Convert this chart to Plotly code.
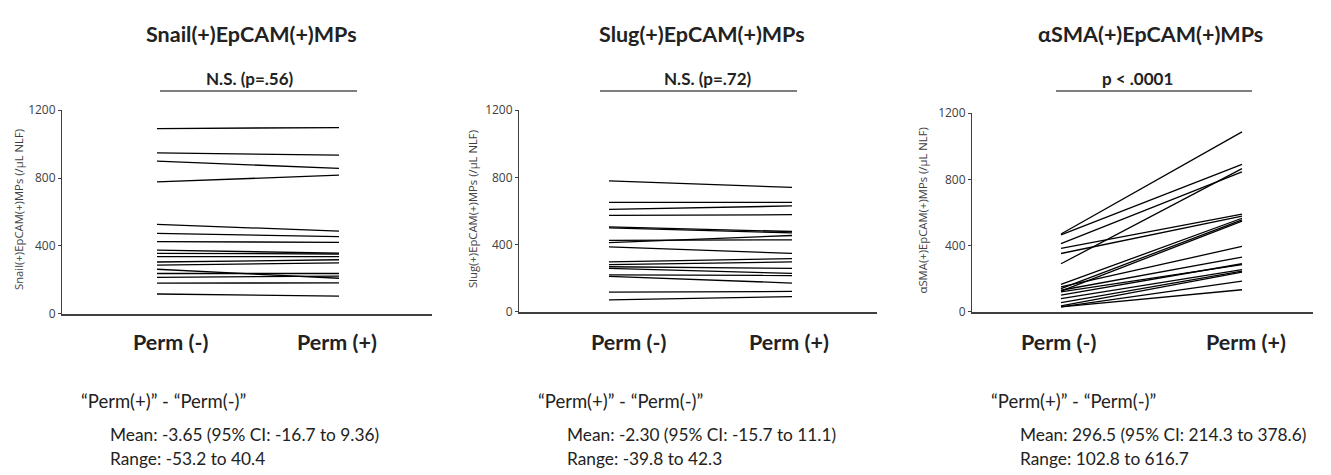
import plotly.graph_objects as go

W, H = 1331, 475

groups = ["Perm (-)", "Perm (+)"]
titles = ["Snail(+)EpCAM(+)MPs", "Slug(+)EpCAM(+)MPs", "αSMA(+)EpCAM(+)MPs"]
ytitles = ["Snail(+)EpCAM(+)MPs (/μL NLF)", "Slug(+)EpCAM(+)MPs (/μL NLF)", "αSMA(+)EpCAM(+)MPs (/μL NLF)"]
sig_labels = ["N.S. (p=.56)", "N.S. (p=.72)", "p < .0001"]
tick_vals = [0, 400, 800, 1200]
tick_text = ["0", "400", "800", "1200"]

snail_neg = [1092, 948, 900, 777, 527, 474, 425, 375, 356, 337, 305, 286, 262, 237, 214, 180, 116]
snail_pos = [1098, 935, 857, 817, 487, 455, 421, 357, 352, 337, 318, 300, 209, 237, 222, 182, 104]

slug_neg = [779, 651, 610, 574, 505, 500, 412, 425, 386, 297, 281, 268, 258, 220, 211, 117, 71]
slug_pos = [741, 651, 630, 578, 478, 470, 454, 428, 348, 316, 297, 258, 228, 216, 171, 121, 90]

sma_neg = [470, 465, 412, 290, 383, 352, 165, 140, 125, 150, 130, 100, 120, 80, 55, 35, 30, 30]
sma_pos = [1087, 890, 845, 865, 590, 578, 565, 555, 548, 395, 330, 290, 285, 255, 245, 240, 185, 133]

stats_head = "“Perm(+)” - “Perm(-)”"
stats_mean = ["Mean: -3.65 (95% CI: -16.7 to 9.36)",
              "Mean: -2.30 (95% CI: -15.7 to 11.1)",
              "Mean: 296.5 (95% CI: 214.3 to 378.6)"]
stats_range = ["Range: -53.2 to 40.4", "Range: -39.8 to 42.3", "Range: 102.8 to 616.7"]

data = [(snail_neg, snail_pos), (slug_neg, slug_pos), (sma_neg, sma_pos)]

# layout geometry in pixels: axis x0, x1, y top, y bottom, category 0 px, category 1 px
axis_px = [(62, 432, 105, 316, 157, 339), (519, 877, 105, 314, 609, 792), (972, 1313, 108, 314, 1061, 1242)]
title_cx = [251, 702, 1150]
sig_cx = [250, 708, 1137]
sig_line = [(160, 357), (600, 797), (1056, 1252)]
cat_cx = [(170, 337), (628, 789), (1058, 1246)]
ytitle_cx = [18, 472, 923]


def px(x):
    return x / W


def py(y):
    return 1 - y / H


fig = go.Figure()
annotations = []
shapes = []
TEXT_FONT = "Lato, 'Open Sans', sans-serif"
DARK = "#222222"

for i, ((neg, pos), (x0, x1, ytop, ybot, c0, c1)) in enumerate(zip(data, axis_px)):
    n = i + 1
    xa = "x" if n == 1 else f"x{n}"
    ya = "y" if n == 1 else f"y{n}"
    scale = c1 - c0
    xr = [(x0 - c0) / scale, (x1 - c0) / scale]
    for a, b in zip(neg, pos):
        fig.add_trace(go.Scatter(x=[0, 1], y=[a, b], mode="lines",
                                 line=dict(color="black", width=1.3),
                                 xaxis=xa, yaxis=ya, showlegend=False, hoverinfo="skip"))
    fig.layout[f"xaxis{'' if n == 1 else n}"] = dict(
        domain=[px(x0), px(x1)], range=xr, anchor=ya, showgrid=False, zeroline=False,
        showticklabels=False, ticks="", showline=True, linecolor="#404040", linewidth=1.5,
        fixedrange=True)
    fig.layout[f"yaxis{'' if n == 1 else n}"] = dict(
        domain=[py(ybot), py(ytop)], range=[0, 1200], anchor=xa, showgrid=False, zeroline=False,
        tickvals=tick_vals, ticktext=tick_text, ticks="outside", ticklen=3, tickcolor="#404040",
        tickfont=dict(family="'Open Sans', sans-serif", size=12, color="#404040"),
        showline=True, linecolor="#404040", linewidth=1, fixedrange=True)

    # panel title
    annotations.append(dict(text=f"<b>{titles[i]}</b>", xref="paper", yref="paper",
                            x=px(title_cx[i]), y=py(26), xanchor="center", yanchor="middle",
                            showarrow=False, font=dict(family=TEXT_FONT, size=21.5, color=DARK)))
    # significance
    annotations.append(dict(text=f"<b>{sig_labels[i]}</b>", xref="paper", yref="paper",
                            x=px(sig_cx[i]), y=py(72), xanchor="center", yanchor="middle",
                            showarrow=False, font=dict(family=TEXT_FONT, size=17, color=DARK)))
    shapes.append(dict(type="line", xref="paper", yref="paper",
                       x0=px(sig_line[i][0]), x1=px(sig_line[i][1]), y0=py(85), y1=py(85),
                       line=dict(color="#555555", width=1.5)))
    # y title
    annotations.append(dict(text=ytitles[i], xref="paper", yref="paper", textangle=-90,
                            x=px(ytitle_cx[i]), y=py((ytop + ybot) / 2 - 2), xanchor="center", yanchor="middle",
                            showarrow=False, font=dict(family="'Open Sans', sans-serif", size=11.3, color="#404040")))
    # category labels
    for k, g in enumerate(groups):
        annotations.append(dict(text=f"<b>{g}</b>", xref="paper", yref="paper",
                                x=px(cat_cx[i][k]), y=py(345), xanchor="center", yanchor="middle",
                                showarrow=False, font=dict(family=TEXT_FONT, size=21.5, color=DARK)))
    # stats text
    annotations.append(dict(text=stats_head, xref="paper", yref="paper",
                            x=px(x0 + 17), y=py(407), xanchor="left", yanchor="middle",
                            showarrow=False, font=dict(family=TEXT_FONT, size=18.5, color=DARK)))
    annotations.append(dict(text=stats_mean[i], xref="paper", yref="paper",
                            x=px(x0 + 46), y=py(441), xanchor="left", yanchor="middle",
                            showarrow=False, font=dict(family=TEXT_FONT, size=17.3, color=DARK)))
    annotations.append(dict(text=stats_range[i], xref="paper", yref="paper",
                            x=px(x0 + 46), y=py(466), xanchor="left", yanchor="middle",
                            showarrow=False, font=dict(family=TEXT_FONT, size=17.3, color=DARK)))

fig.update_layout(width=W, height=H, autosize=False, margin=dict(l=0, r=0, t=0, b=0),
                  paper_bgcolor="white", plot_bgcolor="white",
                  annotations=annotations, shapes=shapes, showlegend=False)

post = ("document.documentElement.style.margin='0';document.documentElement.style.padding='0';"
        "document.documentElement.style.overflow='hidden';"
        "document.body.style.margin='0';document.body.style.padding='0';document.body.style.overflow='hidden';"
        "var d=document.getElementById('{plot_id}');d.style.position='fixed';d.style.top='0px';d.style.left='0px';")

fig.write_html("out.html", config={"displayModeBar": False}, post_script=post)
